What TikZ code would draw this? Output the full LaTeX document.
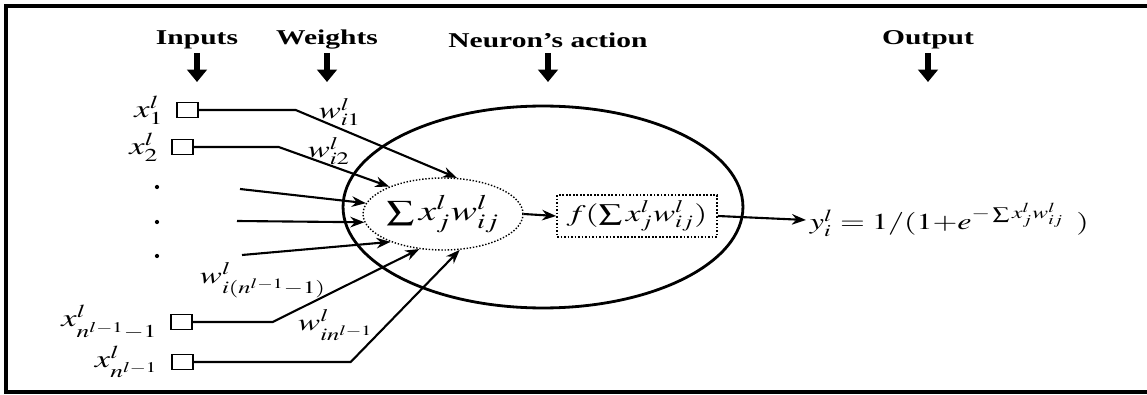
\documentclass[tikz,border=0pt]{standalone}
\usepackage{mathptmx}
\usepackage{fontspec}
\setmainfont{Liberation Serif}
\usepackage{graphicx}
\usetikzlibrary{arrows.meta, positioning, shapes.geometric}
\colorlet{colTrazo}{black}
\newcommand{\ancho}[1]{\scalebox{1.4}[1]{#1}}
\tikzset{
  titulo/.style={font=\fontsize{12}{14}\selectfont\bfseries, inner sep=1pt},
  flechaTitulo/.style={-{Triangle[length=7pt,width=11pt]}, line width=3pt, colTrazo},
  cajaEntrada/.style={draw=colTrazo, thick, minimum width=0.42cm,
    minimum height=0.29cm, inner sep=0pt},
  etiquetaEntrada/.style={font=\fontsize{14}{16}\selectfont, inner sep=1pt},
  etiquetaPeso/.style={font=\fontsize{13.5}{15}\selectfont, inner sep=0pt},
  puntoSuspensivo/.style={circle, fill=colTrazo, minimum size=2.4pt, inner sep=0pt},
  elipseNeurona/.style={ellipse, draw=colTrazo, line width=1.6pt,
    minimum width=8cm, minimum height=4.04cm, inner sep=0pt},
  elipseSuma/.style={ellipse, draw=colTrazo, densely dotted, thick,
    minimum width=2.8cm, minimum height=1.44cm, inner sep=0pt,
    font=\fontsize{16}{18}\selectfont},
  cajaActivacion/.style={draw=colTrazo, densely dotted, line width=1pt,
    minimum width=3.2cm, minimum height=0.84cm, inner sep=0pt,
    font=\fontsize{13.5}{15}\selectfont},
  flecha/.style={-{Stealth[length=8pt,width=6pt]}, line width=1.2pt, colTrazo},
}

\begin{document}
\begin{tikzpicture}[x=0.02cm, y=-0.02cm]
  \useasboundingbox (0,0) rectangle (1147,395);
  \draw[line width=2pt] (1147,6) -| (6,392) -- (1147,392);

  % titulos
  \node[titulo] (tEntradas) at (197,40) {\ancho{Inputs}};
  \node[titulo] (tPesos) at (327,40) {\ancho{Weights}};
  \node[titulo] (tNeurona) at (548,40) {\ancho{Neuron's action}};
  \node[titulo] (tSalida) at (928,40) {\ancho{Output}};
  \foreach \t in {tEntradas, tPesos, tNeurona, tSalida}
    \draw[flechaTitulo] (\t.south |- 0,53) -- ++(0,29);

  % entradas
  \node[cajaEntrada] (in1) at (187.5,110) {};
  \node[cajaEntrada] (in2) at (182.5,147) {};
  \node[cajaEntrada] (inN1) at (181.5,322) {};
  \node[cajaEntrada] (inN) at (182.5,362) {};
  \node[etiquetaEntrada, left=6pt of in1] (x1) {\ancho{$x_1^l$}};
  \node[etiquetaEntrada, left=6pt of in2] (x2) {\ancho{$x_2^l$}};
  \node[etiquetaEntrada, left=6pt of inN1] (xN1) {\ancho{$x^l_{n^{l-1}-1}$}};
  \node[etiquetaEntrada, left=6pt of inN] (xN) {\ancho{$x^l_{n^{l-1}}$}};
  \node[puntoSuspensivo] (p1) at (157,187) {};
  \node[puntoSuspensivo] (p2) at (157,222) {};
  \node[puntoSuspensivo] (p3) at (157,256) {};

  % neurona
  \node[elipseNeurona] (neurona) at (543,207) {};
  \node[elipseSuma] (suma) at (443,214) {\ancho{$\sum x_j^l w_{ij}^l$}};
  \node[cajaActivacion] (act) at (637,216) {\ancho{$f(\sum x_j^l w_{ij}^l)$}};
  \node[anchor=west, font=\fontsize{13}{15}\selectfont, inner sep=2pt] (salida) at (806,220)
    {\ancho{$y_i^l = 1/(1{+}e^{-\sum x_j^l w_{ij}^l}\ \,)$}};

  % conexiones
  \coordinate (c1) at (240,189);
  \coordinate (c2) at (237,221);
  \coordinate (c3) at (242,255);
  \draw[flecha] (in1.east) -- ++(97,0) -- (suma.69);
  \draw[flecha] (in2.east) -- ++(85,0) -- (suma.153);
  \draw[flecha] (c1) -- (suma.172);
  \draw[flecha] (c2) -- (suma.186);
  \draw[flecha] (c3) -- (suma.208);
  \draw[flecha] (inN1.east) -- ++(80,0) -- (suma.236);
  \draw[flecha] (inN.east) -- ++(157,0) -- (suma.295);
  \draw[flecha] (suma.east) -- (act.west);
  \draw[flecha] (act.east) -- (salida.west);

  % pesos
  \node[etiquetaPeso] (w1) at (340,112) {\ancho{$w_{i1}^l$}};
  \node[etiquetaPeso] (w2) at (329,151) {\ancho{$w_{i2}^l$}};
  \node[etiquetaPeso] (wN1) at (263,280) {\ancho{$w^l_{i(n^{l-1}-1)}$}};
  \node[etiquetaPeso] (wN) at (336,325) {\ancho{$w^l_{in^{l-1}}$}};
\end{tikzpicture}
\end{document}
